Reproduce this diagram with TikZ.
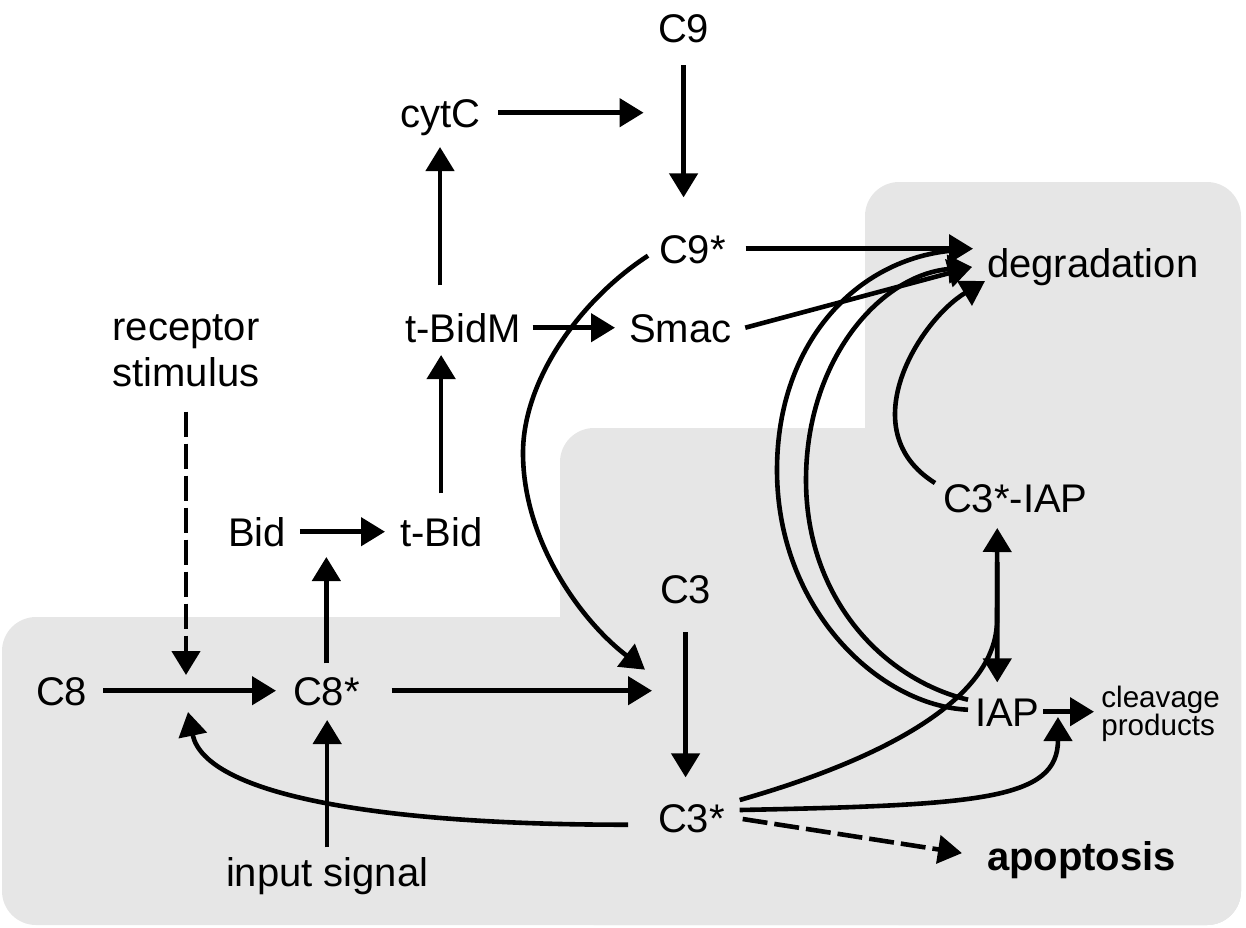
\documentclass[tikz,border=0pt]{standalone}
\usepackage{fontspec}
\setmainfont{Liberation Sans}
\usetikzlibrary{arrows.meta,calc}
\definecolor{bg}{RGB}{230,230,230}
\begin{document}
\begin{tikzpicture}[x=0.5pt,y=-0.5pt,
  lab/.style={inner sep=0pt,outer sep=0pt,anchor=base west,font=\fontsize{20}{23}\selectfont,text height=14.3pt,text depth=0pt},
  ln/.style={line width=2.3pt},
  arr/.style={line width=2.3pt,-{Triangle[length=12pt,width=14pt]}},
  dsh/.style={dash pattern=on 12.5pt off 3.5pt}]
\useasboundingbox (0,0) rectangle (1246,927);
% background regions
\fill[bg,rounded corners=17pt] (2,617) rectangle (1241,925);
\fill[bg,rounded corners=17pt] (560,428) rectangle (1241,925);
\fill[bg,rounded corners=17pt] (865,182) rectangle (1241,925);
% nodes
\node[lab] (C9) at (658,42) {C9};
\node[lab] (cytC) at (400,127) {cytC};
\node[lab] (C9s) at (659,263) {C9*};
\node[lab] (tBidM) at (405,342) {t-BidM};
\node[lab] (Smac) at (629,342) {Smac};
\node[lab] (deg) at (987,277) {degradation};
\node[inner sep=0pt,align=center,font=\fontsize{20}{23}\selectfont] (rec) at (186,351) {receptor\\stimulus};
\node[lab] (Bid) at (228,546) {Bid};
\node[lab] (tBid) at (400,546) {t-Bid};
\node[lab] (C3IAP) at (943,512) {C3*-IAP};
\node[lab] (C3) at (660,603) {C3};
\node[lab] (C8) at (36,705) {C8};
\node[lab] (C8s) at (293,705) {C8*};
\node[lab] (IAP) at (975,726) {IAP};
\node[inner sep=0pt,anchor=west,align=left,font=\fontsize{14.8}{14}\selectfont] (cleav) at (1101,714) {cleavage\\products};
\node[lab] (C3s) at (658,832) {C3*};
\node[lab,font=\fontsize{20}{23}\selectfont\bfseries] (apop) at (987,870) {apoptosis};
\node[lab] (input) at (226,886) {input signal};
\coordinate (j8) at (185,691);
% straight connectors
\draw[arr,shorten <=11.5pt,shorten >=18.5pt] (C9.south) -- (C9.south |- C9s.north);
\draw[arr,shorten <=9pt,shorten >=20pt] (cytC.east) -- (cytC.east -| C9.south);
\draw[arr,shorten <=14pt,shorten >=10pt] (tBidM.north -| cytC.south) -- (cytC.south);
\draw[arr,shorten <=12pt,shorten >=6.5pt] (tBid.north) -- (tBid.north |- tBidM.south);
\draw[arr,shorten <=6pt,shorten >=7pt] (tBidM.east) -- (Smac.west);
\draw[arr,shorten <=7pt,shorten >=7.5pt] (Bid.east) -- (Bid.east -| tBid.west);
\draw[arr,shorten <=6.5pt,shorten >=5.5pt] (C8s.north) -- (C8s.north |- Bid.south);
\draw[arr,shorten <=5pt,shorten >=7.5pt] (input.north) -- (input.north |- C8s.south);
\draw[arr,shorten <=8pt,shorten >=8.5pt] (C8.east) -- (C8s.west);
\draw[arr,shorten <=16pt,shorten >=4pt] (C8s.east) -- (C8s.east -| C3.west);
\draw[arr,shorten <=14.5pt,shorten >=13pt] (C3.south) -- (C3.south |- C3s.north);
\draw[arr,dsh,shorten <=12pt,shorten >=8pt] (rec.south) -- (rec.south |- j8);
\draw[arr,shorten <=10pt,shorten >=7pt] (C9s.east) -- (C9s.east -| deg.west);
\draw[arr] ($(Smac.east)+(14,0)$) -- ($(deg.west)+(-15,4.3)$);
\draw[arr,shorten <=2pt,shorten >=3.5pt] (IAP.east) -- (IAP.east -| cleav.west);
\draw[arr] ($(C3IAP.south)+(-18,50)$) -- ($(IAP.north)+(-10,-15)$);
\draw[arr,dsh] ($(C3s.east)+(18,1.3)$) -- ($(apop.west)+(-25,-2.6)$);
% curved connectors
\draw[arr] ($(C3s.west)+(-30,7)$) .. controls (380,825) and (205,795) .. ($(j8)+(3,21)$);
\draw[arr] ($(C9s.west)+(-11,7)$) .. controls (580,300) and (523,380) .. (523,453)
   .. controls (523,540) and (580,620) .. ($(C3.west)+(-15,81)$);
\draw[ln] ($(IAP.west)+(-7,-2)$) .. controls (880,706) and (777,610) .. (777,470)
   .. controls (777,340) and (860,255) .. ($(deg.west)+(-27,-12.7)$);
\draw[arr] ($(IAP.west)+(-7,-12)$) .. controls (885,680) and (806,600) .. (806,480)
   .. controls (806,360) and (880,275) .. ($(deg.west)+(-15,4.3)$);
\draw[arr] ($(C3IAP.west)+(-8,-14.7)$) .. controls (850,430) and (920,320) .. ($(deg.west)+(-2,18.3)$);
\draw[arr] ($(C3s.east)+(15,-17.7)$) .. controls (880,760) and (997,700) .. (997,620)
   -- ($(C3IAP.south)+(-18,16)$);
\draw[arr] ($(C3s.east)+(15,-7.7)$) .. controls (980,805) and (1058,800) .. ($(IAP.east)+(18.5,5.3)$);
\end{tikzpicture}
\end{document}
